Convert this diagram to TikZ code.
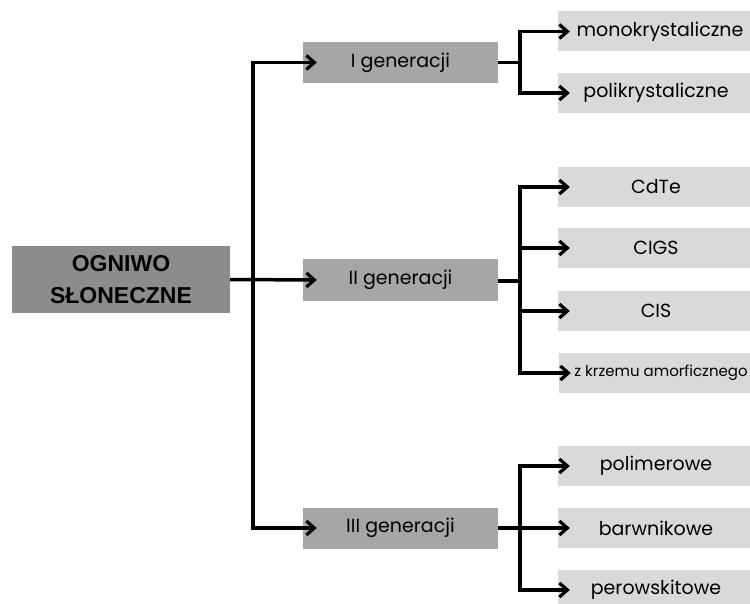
\documentclass[tikz,border=0pt]{standalone}
\usepackage{fontspec}
\setmainfont{Poppins}
\newfontfamily\headfont{Liberation Sans}
\usetikzlibrary{arrows.meta}
\colorlet{rootgray}{black!45}
\colorlet{gengray}{black!35}
\colorlet{leafgray}{black!15}

\begin{document}
\begin{tikzpicture}[x=1pt,y=-1pt,
    box/.style={inner sep=0pt, text=black, align=center},
    rootbox/.style={box, fill=rootgray, minimum width=218pt, minimum height=67pt,
        font=\headfont\fontsize{23}{32}\selectfont\bfseries},
    genbox/.style={box, fill=gengray, minimum width=195pt, minimum height=41pt,
        font=\fontsize{19}{22}\selectfont},
    leafbox/.style={box, fill=leafgray, minimum width=196pt, minimum height=40pt,
        font=\fontsize{19}{22}\selectfont},
    widebox/.style={leafbox, minimum width=204pt},
    wire/.style={line width=3.5pt, line join=miter},
    arr/.style={wire, -{Straight Barb[length=8pt,width=14pt,line width=3.2pt]}},
    biarr/.style={wire, {Straight Barb[length=8pt,width=14pt,line width=3.2pt]}-{Straight Barb[length=8pt,width=14pt,line width=3.2pt]}}]
    \useasboundingbox (0,0) rectangle (750,604);
    \clip (0,0) rectangle (750,604);

    % main node and generations
    \node[rootbox] (root) at (121,279.5) {OGNIWO\\SŁONECZNE};
    \node[genbox] (gen1) at (400.5,62.5) {I generacji};
    \node[genbox] (gen2) at (400.5,280) {II generacji};
    \node[genbox] (gen3) at (400.5,528) {III generacji};

    % types of cells
    \node[widebox] (mono) at (660,31.5) {monokrystaliczne};
    \node[leafbox] (poli) at (656,93) {polikrystaliczne};
    \node[leafbox] (cdte) at (656,187) {CdTe};
    \node[leafbox] (cigs) at (656,248) {CIGS};
    \node[leafbox] (cis) at (656,311) {CIS};
    \node[widebox, font=\fontsize{15}{18}\selectfont] (krzem) at (661,373) {z krzemu amorficznego};
    \node[leafbox] (polim) at (656,466) {polimerowe};
    \node[leafbox] (barw) at (656,528) {barwnikowe};
    \node[leafbox] (perow) at (656,590) {perowskitowe};

    % trunk and branch points
    \coordinate (top) at (253,62.5);
    \coordinate (bot) at (253,528);
    \coordinate (b1) at (520,62.5);
    \coordinate (b2) at (520,281);
    \coordinate (b3) at (520,528);

    \draw[biarr] ([xshift=14pt]gen1.west) -- (top) -- (bot) -- ([xshift=14pt]gen3.west);
    \draw[arr] (root.east) -- ([xshift=14pt]gen2.west);

    \draw[wire] (gen1.east) -- (b1);
    \draw[biarr] ([xshift=12pt]mono.west) -| (b1) |- ([xshift=12pt]poli.west);

    \draw[wire] (gen2.east |- b2) -- (b2);
    \draw[biarr] ([xshift=12pt]cdte.west) -| (b2) |- ([xshift=12pt]krzem.west);
    \draw[arr] (b2 |- cigs) -- ([xshift=12pt]cigs.west);
    \draw[arr] (b2 |- cis) -- ([xshift=12pt]cis.west);

    \draw[biarr] ([xshift=12pt]polim.west) -| (b3) |- ([xshift=12pt]perow.west);
    \draw[arr] (gen3.east) -- ([xshift=12pt]barw.west);
\end{tikzpicture}
\end{document}
